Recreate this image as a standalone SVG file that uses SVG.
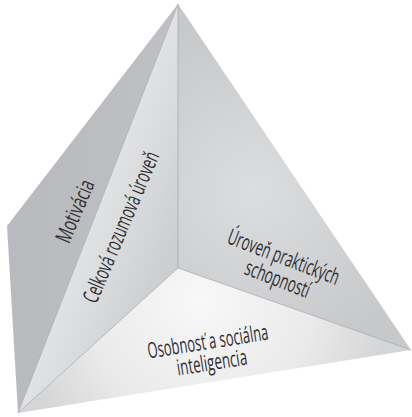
<svg xmlns="http://www.w3.org/2000/svg" width="412" height="417" viewBox="0 0 412 417">
  <defs>
    <linearGradient id="gLeftOuter" x1="0" y1="0" x2="1" y2="0">
      <stop offset="0" stop-color="#b9babd"/>
      <stop offset="1" stop-color="#bfc0c3"/>
    </linearGradient>
    <linearGradient id="gLeftInner" gradientUnits="userSpaceOnUse" x1="95" y1="200" x2="178" y2="232">
      <stop offset="0" stop-color="#e2e3e5"/>
      <stop offset="0.45" stop-color="#d9dadc"/>
      <stop offset="1" stop-color="#cdced0"/>
    </linearGradient>
    <radialGradient id="gRight" gradientUnits="userSpaceOnUse" cx="255" cy="190" r="175">
      <stop offset="0" stop-color="#dcdddf"/>
      <stop offset="1" stop-color="#c7c8ca"/>
    </radialGradient>
    <radialGradient id="gBottom" gradientUnits="userSpaceOnUse" cx="200" cy="300" r="190">
      <stop offset="0" stop-color="#f8f8f8"/>
      <stop offset="0.6" stop-color="#eaeaeb"/>
      <stop offset="1" stop-color="#d4d5d6"/>
    </radialGradient>
  </defs>
  <style>
    .face { stroke: none; }
    .fold { fill: none; stroke: #aaabae; stroke-width: 0.8; }
    .lbl { font-family: "Open Sans", "Liberation Sans", sans-serif; font-size: 22px; fill: #2f2f31; text-anchor: middle; }
  </style>

  <!-- outer left flap -->
  <g id="motivacia">
    <polygon class="face" points="178,4 7,226 18,413" fill="url(#gLeftOuter)"/>
    <text class="lbl" transform="translate(82,214) rotate(-67)" textLength="66" lengthAdjust="spacingAndGlyphs">Motivácia</text>
  </g>

  <!-- inner left face -->
  <g id="celkova">
    <polygon class="face" points="178,4 18,413 178,268" fill="url(#gLeftInner)"/>
    <text class="lbl" transform="translate(128,230) rotate(-67)" textLength="162" lengthAdjust="spacingAndGlyphs">Celková rozumová úroveň</text>
  </g>

  <!-- right face -->
  <g id="prakticke">
    <polygon class="face" points="178,4 411,350 178,268" fill="url(#gRight)"/>
    <text class="lbl" transform="translate(281,264) rotate(21)" textLength="118" lengthAdjust="spacingAndGlyphs">Úroveň praktických</text>
    <text class="lbl" transform="translate(275,286) rotate(21)" textLength="68" lengthAdjust="spacingAndGlyphs">schopností</text>
  </g>

  <!-- bottom face -->
  <g id="osobnost">
    <polygon class="face" points="178,268 18,413 411,350" fill="url(#gBottom)"/>
    <text class="lbl" transform="translate(209,349) rotate(-9)" textLength="122" lengthAdjust="spacingAndGlyphs">Osobnosť a sociálna</text>
    <text class="lbl" transform="translate(213,370) rotate(-9)" textLength="71" lengthAdjust="spacingAndGlyphs">inteligencia</text>
  </g>

  <!-- fold lines -->
  <g id="folds">
    <line class="fold" x1="178" y1="4" x2="178" y2="268"/>
    <line class="fold" x1="178" y1="4" x2="18" y2="413"/>
    <line class="fold" x1="178" y1="268" x2="18" y2="413"/>
    <line class="fold" x1="178" y1="268" x2="411" y2="350"/>
  </g>
</svg>
